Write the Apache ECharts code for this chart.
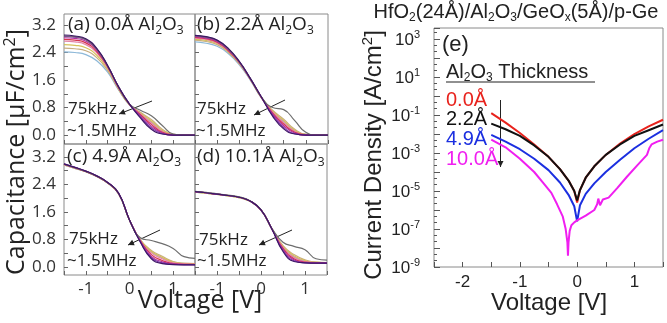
<!DOCTYPE html>
<html><head><meta charset="utf-8">
<script src="https://cdn.jsdelivr.net/npm/echarts@6/dist/echarts.min.js"></script>
<style>html,body{margin:0;padding:0;background:#fff}#c{width:667px;height:323px}</style>
</head><body><div id="c"></div>
<script>
// ================= DATA =================
// C-V panels: gate voltage grid [V]
const cvVoltage = [-1.5,-1.25,-1,-0.75,-0.5,-0.25,0,0.25,0.5,0.75,1,1.25,1.5];
// curve order (drawing order): lightblue, tan, yellow, pink, red, magenta, purple, 75kHz(gray), 1.5MHz(dark)
const cvCurveNames = ['f-lightblue','f-tan','f-yellow','f-pink','f-red','f-magenta','f-purple','75kHz','1.5MHz'];
// (a) 0.0 Å Al2O3  capacitance [uF/cm2]
const cvA = [
  [2.42,2.40,2.34,2.16,1.83,1.31,0.87,0.60,0.38,0.12,0.01,0,0],
  [2.53,2.51,2.45,2.25,1.88,1.33,0.88,0.66,0.45,0.17,0.02,0,0],
  [2.63,2.61,2.54,2.32,1.92,1.35,0.88,0.64,0.41,0.14,0.02,0,0],
  [2.73,2.71,2.63,2.39,1.96,1.37,0.89,0.62,0.36,0.11,0.01,0,0],
  [2.78,2.76,2.68,2.43,1.98,1.38,0.89,0.59,0.31,0.08,0.01,0,0],
  [2.83,2.81,2.73,2.47,2.00,1.39,0.90,0.56,0.26,0.06,0,0,0],
  [2.87,2.85,2.77,2.50,2.01,1.40,0.90,0.53,0.21,0.04,0,0,0],
  [2.88,2.86,2.78,2.50,2.01,1.40,0.90,0.72,0.56,0.28,0.03,0,0],
  [2.91,2.88,2.80,2.52,2.02,1.40,0.90,0.50,0.17,0.03,0,0,0]
];
// (b) 2.2 Å Al2O3
const cvB = [
  [2.71,2.67,2.58,2.37,2.04,1.59,1.07,0.66,0.40,0.13,0.02,0,0],
  [2.76,2.72,2.63,2.41,2.07,1.61,1.08,0.72,0.46,0.17,0.02,0,0],
  [2.79,2.75,2.66,2.43,2.09,1.62,1.09,0.70,0.42,0.14,0.02,0,0],
  [2.82,2.78,2.68,2.45,2.10,1.62,1.09,0.67,0.37,0.11,0.01,0,0],
  [2.84,2.80,2.70,2.46,2.11,1.63,1.09,0.64,0.32,0.08,0.01,0,0],
  [2.86,2.82,2.72,2.48,2.12,1.63,1.10,0.61,0.27,0.06,0,0,0],
  [2.88,2.84,2.74,2.50,2.13,1.64,1.10,0.58,0.22,0.04,0,0,0],
  [2.89,2.85,2.75,2.51,2.13,1.64,1.10,0.80,0.74,0.42,0.08,0,0],
  [2.90,2.86,2.76,2.52,2.14,1.64,1.10,0.55,0.18,0.03,0,0,0]
];
// (c) 4.9 Å Al2O3
const cvC = [
  [2.97,2.87,2.77,2.63,2.44,2.13,1.36,0.78,0.44,0.27,0.14,0.10,0.09],
  [2.97,2.87,2.77,2.63,2.44,2.13,1.36,0.79,0.48,0.31,0.16,0.11,0.10],
  [2.98,2.88,2.77,2.63,2.44,2.13,1.36,0.78,0.45,0.28,0.14,0.10,0.09],
  [2.98,2.88,2.78,2.64,2.45,2.14,1.37,0.77,0.41,0.24,0.12,0.09,0.08],
  [2.99,2.89,2.78,2.64,2.45,2.14,1.37,0.76,0.36,0.19,0.10,0.08,0.08],
  [2.99,2.89,2.78,2.64,2.45,2.14,1.37,0.75,0.31,0.15,0.09,0.07,0.07],
  [3.00,2.90,2.79,2.65,2.46,2.15,1.37,0.73,0.27,0.12,0.08,0.07,0.07],
  [2.99,2.89,2.78,2.64,2.45,2.14,1.37,0.85,0.77,0.68,0.54,0.30,0.25],
  [3.00,2.90,2.79,2.65,2.46,2.15,1.37,0.72,0.24,0.10,0.07,0.06,0.06]
];
// (d) 10.1 Å Al2O3
const cvD = [
  [2.18,2.15,2.11,2.07,2.02,1.91,1.65,1.10,0.58,0.30,0.17,0.13,0.12],
  [2.18,2.15,2.11,2.07,2.02,1.91,1.65,1.11,0.62,0.36,0.21,0.14,0.13],
  [2.18,2.15,2.11,2.07,2.02,1.91,1.66,1.11,0.60,0.33,0.19,0.14,0.12],
  [2.19,2.16,2.12,2.08,2.03,1.92,1.66,1.11,0.57,0.28,0.16,0.13,0.12],
  [2.19,2.16,2.12,2.08,2.03,1.92,1.66,1.10,0.54,0.24,0.14,0.12,0.12],
  [2.19,2.16,2.12,2.08,2.03,1.92,1.66,1.10,0.51,0.21,0.13,0.12,0.11],
  [2.19,2.16,2.12,2.08,2.03,1.92,1.66,1.10,0.48,0.18,0.12,0.11,0.11],
  [2.20,2.17,2.13,2.09,2.04,1.93,1.67,1.12,0.72,0.60,0.50,0.24,0.20],
  [2.19,2.16,2.12,2.08,2.03,1.92,1.66,1.10,0.45,0.16,0.12,0.11,0.11]
];
const cvTickValues = [0, 0.8, 1.6, 2.4, 3.2];
const cvTickLabels = ['0.0','0.8','1.6','2.4','3.2'];
const cvXTickLabels = ['-1','0','1'];

// (e) J-V: voltage [V] and log10 of current density [A/cm2]
const jvVoltage = [-1.5,-1.25,-1,-0.75,-0.5,-0.3,-0.15,-0.05,0,0.05,0.15,0.3,0.5,0.75,1,1.25,1.5];
const jvLog_0A   = [-0.9,-1.4,-1.95,-2.55,-3.2,-3.85,-4.45,-5.0,-5.6,-4.95,-4.3,-3.7,-3.1,-2.5,-2.0,-1.6,-1.25];
const jvLog_2p2A = [-1.45,-1.75,-2.1,-2.6,-3.2,-3.85,-4.45,-5.0,-5.5,-4.95,-4.3,-3.7,-3.1,-2.55,-2.1,-1.8,-1.5];
const jvLog_4p9A = [-2.05,-2.4,-2.8,-3.3,-3.9,-4.55,-5.2,-5.8,-6.6,-5.75,-5.15,-4.6,-4.0,-3.35,-2.75,-2.25,-1.8];
const jvVoltage10A = [-1.5,-1.25,-1,-0.75,-0.6,-0.45,-0.35,-0.25,-0.2,-0.17,-0.16,-0.15,-0.13,-0.1,-0.05,0,0.15,0.3,0.35,0.37,0.4,0.45,0.55,0.7,0.87,1.05,1.22,1.26,1.3,1.4,1.5];
const jvLog_10A  = [-2.3,-2.7,-3.3,-4.0,-4.55,-5.1,-5.7,-6.35,-7.0,-7.7,-8.4,-7.7,-7.1,-6.8,-6.65,-6.55,-6.3,-6.0,-5.7,-5.4,-5.75,-5.45,-5.35,-4.85,-4.25,-3.65,-3.1,-2.75,-2.55,-2.4,-2.3];
const jvLegend = ['0.0Å','2.2Å','4.9Å','10.0Å'];
const jvYTickExps = [-9,-7,-5,-3,-1,1,3];
const jvXTickLabels = ['-2','-1','0','1'];

// ================= STYLE / LAYOUT =================
const FL = '"Open Sans", sans-serif';
const FR = '"Liberation Sans", Arial, sans-serif';
const cvColors = ['#8db8d8','#c8ad7f','#d6c25a','#e386a8','#d6354f','#b02f9c','#7a35a8','#6e6e6e','#3d1565'];
const jvColors = ['#e8231d','#111111','#1b2fe0','#f01ef0'];
const frameColor = '#8a8a8a';

const panels = [
  {curves: cvA, frame:{left:64, top:14, width:131, height:130}, ymin:-0.26, ymax:3.52, xLab:false, yLab:true},
  {curves: cvB, frame:{left:195, top:14, width:133, height:130}, ymin:-0.26, ymax:3.52, xLab:false, yLab:false},
  {curves: cvC, frame:{left:64, top:144, width:131, height:131}, ymin:-0.233, ymax:3.578, xLab:true, yLab:true},
  {curves: cvD, frame:{left:195, top:144, width:132, height:131}, ymin:-0.233, ymax:3.578, xLab:true, yLab:false}
];

const grid = [], xAxis = [], yAxis = [], series = [];
const tickStyle = {inside:true, length:4, lineStyle:{color:'#666', width:1}};
const noLine = {show:false, onZero:false};

panels.forEach((p, i) => {
  grid.push(Object.assign({show:true, borderColor:frameColor, borderWidth:1, backgroundColor:'transparent'}, p.frame));
  xAxis.push({gridIndex:i, type:'value', min:-1.5, max:1.5, interval:0.5, position:'bottom',
    axisLine:noLine, splitLine:{show:false}, axisTick:tickStyle,
    axisLabel:{show:p.xLab, margin:6, fontSize:17, fontFamily:FL, color:'#333',
      formatter: v => { const s = String(Math.round(v)); return (Math.abs(v - Math.round(v)) < 1e-6 && cvXTickLabels.includes(s)) ? s : ''; }}});
  yAxis.push({gridIndex:i, type:'value', min:p.ymin, max:p.ymax, show:false, axisLine:noLine, splitLine:{show:false}});
  p.curves.forEach((c, k) => {
    series.push({type:'line', name:cvCurveNames[k], xAxisIndex:i, yAxisIndex:i,
      data: cvVoltage.map((v, j) => [v, c[j]]), smooth:0.5,
      symbol:'none', silent:true, lineStyle:{width:1.2, color:cvColors[k]}, clip:true});
  });
});
// label/tick grids for C-V y axes (0..3.2)
panels.forEach((p, i) => {
  const ppu = p.frame.height / (p.ymax - p.ymin);
  const top = p.frame.top + (p.ymax - 3.2) * ppu;
  grid.push({left:p.frame.left, top:top, width:p.frame.width, height:3.2 * ppu, show:false});
  const gi = grid.length - 1;
  xAxis.push({gridIndex:gi, type:'value', min:-1.5, max:1.5, show:false, axisLine:noLine});
  yAxis.push({gridIndex:gi, type:'value', min:0, max:3.2, interval:0.4, position:'left',
    axisLine:noLine, splitLine:{show:false}, axisTick:tickStyle,
    axisLabel:{show:p.yLab, margin:8, fontSize:17, fontFamily:FL, color:'#333',
      formatter: v => { const idx = cvTickValues.findIndex(t => Math.abs(t - v) < 1e-6); return idx >= 0 ? cvTickLabels[idx] : ''; }}});
});
// panel (e)
grid.push({left:434, top:28, width:229, height:239, show:true, borderColor:frameColor, borderWidth:1});
const ge = grid.length - 1;
xAxis.push({gridIndex:ge, type:'value', min:-2.5, max:1.5, interval:0.5, position:'bottom',
  axisLine:noLine, splitLine:{show:false}, axisTick:{inside:true, length:5, lineStyle:{color:'#555'}},
  axisLabel:{margin:7, fontSize:17, fontFamily:FR, color:'#222',
    formatter: v => { const s = String(Math.round(v)); return (Math.abs(v - Math.round(v)) < 1e-6 && jvXTickLabels.includes(s)) ? s : ''; }}});
yAxis.push({gridIndex:ge, type:'value', min:-9, max:3.58, interval:1, position:'left',
  axisLine:noLine, splitLine:{show:false},
  axisTick:{inside:true, length:6, lineStyle:{color:'#555'}},
  minorTick:{show:true, splitNumber:3, length:3, lineStyle:{color:'#555'}},
  axisLabel:{margin:14, color:'#222',
    formatter: v => jvYTickExps.some(t => Math.abs(t - v) < 1e-6) ? '{b|10}{p|' + Math.round(v) + '}' : '',
    rich:{b:{fontSize:17, fontFamily:FR, color:'#222', lineHeight:20, verticalAlign:'bottom'},
          p:{fontSize:11, fontFamily:FR, color:'#222', lineHeight:12, verticalAlign:'top'}}}});
const jvSets = [[jvVoltage, jvLog_0A],[jvVoltage, jvLog_2p2A],[jvVoltage, jvLog_4p9A],[jvVoltage10A, jvLog_10A]];
jvSets.forEach(([vx, vy], k) => {
  series.push({type:'line', name:jvLegend[k], xAxisIndex:ge, yAxisIndex:ge, symbol:'none', silent:true,
    data: vx.map((v, j) => [v, vy[j]]), lineStyle:{width:2, color:jvColors[k]}});
});

// ================= ANNOTATIONS =================
const graphic = [];
function rtext(x, y, str, rich, o) {
  o = o || {};
  graphic.push({type:'text', x:x, y:y, rotation:o.rot || 0, silent:true,
    style:{text:str, rich:rich, fill:o.fill || '#111', align:o.align || 'left', verticalAlign:'middle'}});
}
function richSet(size, fam, color) {
  const ss = Math.round(size * 0.62);
  return {
    n:{fontSize:size, fontFamily:fam, fill:color, lineHeight:size + 4, verticalAlign:'middle'},
    s:{fontSize:ss, fontFamily:fam, fill:color, lineHeight:ss, verticalAlign:'bottom'},
    p:{fontSize:ss, fontFamily:fam, fill:color, lineHeight:ss, verticalAlign:'top'}
  };
}
function arrow(x1, y1, x2, y2) {
  graphic.push({type:'line', silent:true, shape:{x1:x1, y1:y1, x2:x2, y2:y2}, style:{stroke:'#222', lineWidth:1}});
  const dx = x2 - x1, dy = y2 - y1, L = Math.hypot(dx, dy), ux = dx / L, uy = dy / L, h = 6, w = 3;
  graphic.push({type:'polygon', silent:true, shape:{points:[[x2, y2],[x2 - ux*h - uy*w, y2 - uy*h + ux*w],[x2 - ux*h + uy*w, y2 - uy*h - ux*w]]}, style:{fill:'#222'}});
}
const pl = richSet(19, FL, '#222');
rtext(68, 25, '{n|(a) 0.0Å Al}{s|2}{n|O}{s|3}', pl);
rtext(197, 25, '{n|(b) 2.2Å Al}{s|2}{n|O}{s|3}', pl);
rtext(67, 157, '{n|(c) 4.9Å Al}{s|2}{n|O}{s|3}', pl);
rtext(197, 157, '{n|(d) 10.1Å Al}{s|2}{n|O}{s|3}', pl);
const fl = richSet(17, FL, '#222');
[[68,109,67,131],[197,109,196,131],[69,239,67,261],[199,240,197,261]].forEach(a => {
  rtext(a[0], a[1], '{n|75kHz}', fl);
  rtext(a[2], a[3], '{n|~1.5MHz}', fl);
});
arrow(152,101,119,114); arrow(285,100,254,115); arrow(160,230,128,245); arrow(292,230,259,245);
// axis titles
rtext(17, 152, '{n|Capacitance [μF/cm}{p|2}{n|]}', richSet(25, FL, '#222'), {rot:Math.PI/2, align:'center'});
rtext(200, 301, '{n|Voltage [V]}', richSet(25, FL, '#222'), {align:'center'});
rtext(374, 155, '{n|Current Density [A/cm}{p|2}{n|]}', richSet(24, FR, '#222'), {rot:Math.PI/2, align:'center'});
rtext(549, 303, '{n|Voltage [V]}', richSet(24, FR, '#222'), {align:'center'});
rtext(516, 12, '{n|HfO}{s|2}{n|(24Å)/Al}{s|2}{n|O}{s|3}{n|/GeO}{s|x}{n|(5Å)/p-Ge}', richSet(20, FR, '#222'), {align:'center'});
// panel (e) legend
rtext(442, 45, '{n|(e)}', richSet(22, FR, '#222'));
rtext(446, 72, '{n|Al}{s|2}{n|O}{s|3}{n| Thickness}', richSet(20, FR, '#222'));
graphic.push({type:'line', silent:true, shape:{x1:446, y1:82, x2:595, y2:82}, style:{stroke:'#222', lineWidth:1.2}});
const legY = [100, 119, 139, 159];
jvLegend.forEach((t, k) => rtext(446, legY[k], '{n|' + t + '}', richSet(20, FR, jvColors[k])));
arrow(500.5, 100, 500.5, 167);

const chart = echarts.init(document.getElementById('c'), null, {renderer:'canvas'});
chart.setOption({animation:false, backgroundColor:'#fff', grid, xAxis, yAxis, series, graphic});
</script></body></html>
